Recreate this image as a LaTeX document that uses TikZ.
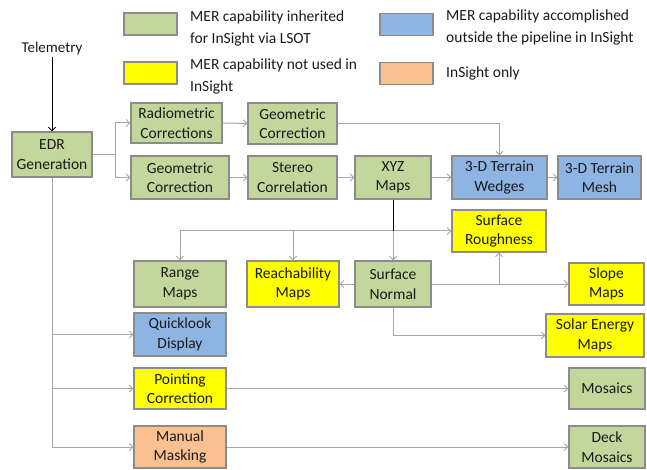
\documentclass[tikz,border=0pt]{standalone}
\usepackage{fontspec}
\setmainfont{Carlito}
\usetikzlibrary{arrows.meta}
\definecolor{grn}{HTML}{C3D69B}
\definecolor{blu}{HTML}{8EB4E3}
\definecolor{yel}{HTML}{FFFF00}
\definecolor{org}{HTML}{FAC090}
\definecolor{bord}{HTML}{8C8C8C}
\definecolor{conc}{HTML}{A6A6A6}
\definecolor{txt}{HTML}{1A1A1A}
\begin{document}
\begin{tikzpicture}[x=1pt,y=-1pt,
  box/.style={draw=bord, line width=1.1pt, inner sep=0pt, align=center, text=txt,
    font=\fontsize{15.5}{19.5}\selectfont},
  gbox/.style={box, fill=grn},
  bbox/.style={box, fill=blu},
  ybox/.style={box, fill=yel},
  obox/.style={box, fill=org},
  sw/.style={draw=bord, line width=1.1pt, minimum width=53pt, minimum height=22pt, inner sep=0pt},
  legtext/.style={anchor=west, align=left, text=txt, inner sep=0pt, font=\fontsize{15.5}{22}\selectfont},
  conn/.style={draw=conc, line width=1pt, -{Straight Barb[length=3.5pt,width=7pt]}},
  plain/.style={draw=conc, line width=1pt}]
\useasboundingbox (0,0) rectangle (647,470);

% legend
\node[sw, fill=grn] (lg) at (150.5,24) {};
\node[legtext] (lgt) at (190,28) {MER capability inherited\\for InSight via LSOT};
\node[sw, fill=yel] (ly) at (150.5,73) {};
\node[legtext] (lyt) at (190,76) {MER capability not used in\\InSight};
\node[sw, fill=blu] (lb) at (406.5,24.5) {};
\node[legtext] (lbt) at (446,27) {MER capability accomplished\\outside the pipeline in InSight};
\node[sw, fill=org] (lo) at (406.5,73.5) {};
\node[legtext] (lot) at (446,73) {InSight only};

% nodes
\node[text=txt, font=\fontsize{15}{19.5}\selectfont, inner sep=1pt] (tele) at (52,49) {Telemetry};
\node[gbox, minimum width=80pt, minimum height=45pt] (edr) at (52,154.5) {EDR\\Generation};
\node[gbox, minimum width=91pt, minimum height=40pt] (radio) at (176.5,123) {Radiometric\\Corrections};
\node[gbox, minimum width=89pt, minimum height=41pt] (geotop) at (292.5,123.5) {Geometric\\Correction};
\node[gbox, minimum width=98pt, minimum height=43pt] (geo2) at (180,177.5) {Geometric\\Correction};
\node[gbox, minimum width=89pt, minimum height=43pt] (stereo) at (292.5,177.5) {Stereo\\Correlation};
\node[gbox, minimum width=76pt, minimum height=43pt] (xyz) at (393,177.5) {XYZ\\Maps};
\node[bbox, minimum width=95pt, minimum height=43pt] (wedges) at (499.5,177.5) {3-D Terrain\\Wedges};
\node[bbox, minimum width=83pt, minimum height=43pt] (mesh) at (599.5,177.5) {3-D Terrain\\Mesh};
\node[ybox, minimum width=94pt, minimum height=42pt] (rough) at (499,231) {Surface\\Roughness};
\node[gbox, minimum width=92pt, minimum height=46pt] (range) at (180,284) {Range\\Maps};
\node[ybox, minimum width=92pt, minimum height=46pt] (reach) at (293,284) {Reachability\\Maps};
\node[gbox, minimum width=76pt, minimum height=46pt] (normal) at (393,284) {Surface\\Normal};
\node[ybox, minimum width=75pt, minimum height=42pt] (slope) at (606.5,284) {Slope\\Maps};
\node[ybox, minimum width=98pt, minimum height=43pt] (solar) at (595,335.5) {Solar Energy\\Maps};
\node[bbox, minimum width=92pt, minimum height=43pt] (quick) at (180,334.5) {Quicklook\\Display};
\node[ybox, minimum width=92pt, minimum height=41pt] (point) at (180,388.5) {Pointing\\Correction};
\node[obox, minimum width=92pt, minimum height=42pt] (manual) at (180,447) {Manual\\Masking};
\node[gbox, minimum width=76pt, minimum height=41pt] (mosaics) at (607,388.5) {Mosaics};
\node[gbox, minimum width=76pt, minimum height=42pt] (deck) at (607,447) {Deck\\Mosaics};

% connectors
\draw[line width=1pt, -{Straight Barb[length=3.5pt,width=7pt]}] (tele) -- (edr);
\coordinate (split) at (115,154.5);
\draw[plain] (edr.east) -- (split);
\draw[conn] (split) |- (radio.west);
\draw[conn] (split) |- (geo2.west);
\draw[conn] (radio) -- (geotop);
\draw[conn] (geotop.east) -| (wedges.north);
\draw[conn] (geo2) -- (stereo);
\draw[conn] (stereo) -- (xyz);
\draw[conn] (xyz) -- (wedges);
\draw[conn] (wedges) -- (mesh);

\coordinate (hub) at (393,231);
\draw[conn] (hub) -- (rough.west);
\draw[conn] (hub) -| (reach.north);
\draw[conn] (hub) -| (range.north);
\draw[conn] (hub) -- (normal.north);
\draw[line width=1pt] (xyz.south) -- (hub);

\draw[conn] (normal.west) -- (reach.east);
\draw[conn] (normal.east) -- (slope.west);
\draw[conn] (rough.south |- normal.east) -- (rough.south);
\draw[conn] (normal.south) |- (solar.west);

\draw[conn] (edr.south) |- (manual.west);
\draw[conn] (edr.south) |- (quick.west);
\draw[conn] (edr.south) |- (point.west);
\draw[conn] (point) -- (mosaics);
\draw[conn] (manual) -- (deck);
\end{tikzpicture}
\end{document}
